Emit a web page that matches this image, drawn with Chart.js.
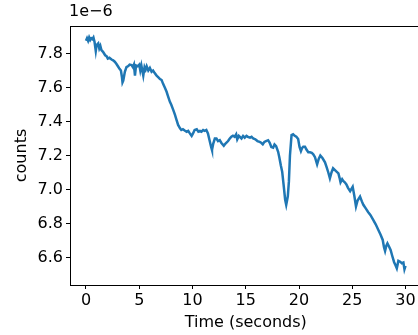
<!DOCTYPE html>
<html>
<head>
<meta charset="utf-8">
<script src="https://cdn.jsdelivr.net/npm/chart.js@4/dist/chart.umd.min.js"></script>
<style>
  html, body { margin: 0; padding: 0; background: #fff; overflow: hidden; }
  #wrap { position: relative; width: 440px; height: 335px; }
  #offset { position: absolute; left: 69px; top: 1px; font: 16px "DejaVu Sans", sans-serif; color: #000; }
</style>
</head>
<body>
<div id="wrap">
  <canvas id="chart" width="440" height="335"></canvas>
  <div id="offset">1e−6</div>
</div>
<script>
// time in seconds, counts in units of 1e-6
const times = [
    0.0, 0.1, 0.2, 0.3, 0.4, 0.5, 0.6, 0.7, 0.8, 0.92, 1.0, 1.15, 1.25, 1.35, 1.45, 1.6, 1.7, 1.8, 1.93,
    2.05, 2.2, 2.4, 2.55, 2.7, 2.85, 3.03, 3.15, 3.28, 3.38, 3.43, 3.5, 3.65, 3.8, 3.97, 4.1, 4.28, 4.4,
    4.5, 4.6, 4.7, 4.85, 5.0, 5.1, 5.2, 5.38, 5.5, 5.6, 5.7, 5.85, 6.0, 6.16, 6.3, 6.45, 6.63, 6.8, 6.95,
    7.1, 7.25, 7.4, 7.57, 7.7, 7.88, 8.0, 8.2, 8.35, 8.5, 8.65, 8.83, 8.95, 9.1, 9.3, 9.45, 9.6, 9.75,
    9.92, 10.05, 10.2, 10.4, 10.55, 10.7, 10.84, 11.0, 11.15, 11.3, 11.45, 11.6, 11.75, 11.83, 11.95,
    12.1, 12.25, 12.4, 12.56, 12.7, 12.94, 13.1, 13.34, 13.5, 13.65, 13.8, 13.95, 14.1, 14.2, 14.35,
    14.6, 14.75, 14.9, 15.07, 15.2, 15.4, 15.55, 15.7, 15.9, 16.1, 16.3, 16.45, 16.6, 16.75, 16.9,
    17.1, 17.25, 17.4, 17.57, 17.7, 17.85, 18.04, 18.15, 18.3, 18.42, 18.55, 18.7, 18.8, 18.95, 19.05,
    19.15, 19.3, 19.45, 19.6, 19.75, 19.92, 20.05, 20.18, 20.3, 20.4, 20.56, 20.7, 20.87, 21.03, 21.2,
    21.34, 21.5, 21.7, 21.85, 22.0, 22.2, 22.44, 22.6, 22.75, 22.9, 23.05, 23.2, 23.45, 23.7, 23.8,
    23.9, 24.05, 24.15, 24.3, 24.45, 24.6, 24.8, 25.04, 25.2, 25.35, 25.5, 25.73, 25.9, 26.04, 26.25,
    26.5, 26.7, 26.98, 27.2, 27.45, 27.65, 27.86, 27.98, 28.08, 28.2, 28.3, 28.45, 28.6, 28.75, 28.93,
    29.05, 29.18, 29.33, 29.5, 29.65, 29.8, 29.9, 30.0
];
const counts = [
    7.875, 7.89, 7.875, 7.895, 7.88, 7.89, 7.885, 7.895, 7.87, 7.815, 7.85, 7.86, 7.83, 7.845, 7.82, 7.81, 7.80, 7.79, 7.785,
    7.77, 7.775, 7.765, 7.76, 7.752, 7.74, 7.722, 7.71, 7.70, 7.66, 7.63, 7.64, 7.693, 7.72, 7.726, 7.735, 7.732, 7.72,
    7.735, 7.67, 7.73, 7.725, 7.735, 7.70, 7.73, 7.67, 7.72, 7.705, 7.725, 7.70, 7.715, 7.693, 7.70, 7.685, 7.67, 7.66, 7.65,
    7.644, 7.62, 7.60, 7.575, 7.55, 7.516, 7.50, 7.467, 7.44, 7.41, 7.38, 7.36, 7.35, 7.355, 7.346, 7.34, 7.345, 7.33,
    7.315, 7.33, 7.35, 7.354, 7.34, 7.345, 7.34, 7.35, 7.345, 7.35, 7.33, 7.29, 7.25, 7.232, 7.27,
    7.30, 7.30, 7.285, 7.29, 7.275, 7.257, 7.27, 7.285, 7.30, 7.31, 7.316, 7.31, 7.325, 7.295, 7.315,
    7.30, 7.315, 7.305, 7.316, 7.31, 7.305, 7.31, 7.30, 7.295, 7.285, 7.28, 7.275, 7.266, 7.28, 7.285,
    7.29, 7.275, 7.25, 7.246, 7.265, 7.255, 7.222, 7.19, 7.14, 7.105, 7.03, 6.94, 6.91, 6.96, 7.046,
    7.20, 7.32, 7.325, 7.316, 7.31, 7.297, 7.25, 7.226, 7.245, 7.252, 7.252, 7.235, 7.219, 7.219, 7.215,
    7.207, 7.19, 7.148, 7.18, 7.20, 7.185, 7.16, 7.13, 7.10, 7.066, 7.10, 7.125, 7.11, 7.095, 7.07,
    7.042, 7.06, 7.05, 7.042, 7.03, 7.01, 6.99, 7.016, 6.96, 6.90, 6.935, 6.958, 6.93, 6.91, 6.89,
    6.866, 6.85, 6.82, 6.795, 6.762, 6.735, 6.703, 6.66, 6.638, 6.67, 6.683, 6.665, 6.644, 6.61, 6.572,
    6.555, 6.536, 6.58, 6.575, 6.566, 6.57, 6.53, 6.55
];
const xTicks = [0, 5, 10, 15, 20, 25, 30];
const yTicks = [6.6, 6.8, 7.0, 7.2, 7.4, 7.6, 7.8];

const font = { family: 'DejaVu Sans', size: 16 };

// matplotlib-like box around the axes
const frame = {
    id: 'frame',
    afterDraw(chart) {
        const a = chart.chartArea;
        const ctx = chart.ctx;
        ctx.save();
        ctx.strokeStyle = '#000';
        ctx.lineWidth = 1;
        ctx.strokeRect(Math.round(a.left) + 0.5, Math.round(a.top) + 0.5, Math.round(a.right - a.left), Math.round(a.bottom - a.top));
        ctx.restore();
    }
};

new Chart(document.getElementById('chart'), {
    type: 'line',
    data: {
        datasets: [{
            data: times.map((t, i) => ({ x: t, y: counts[i] })),
            borderColor: '#1f77b4',
            borderWidth: 2.5,
            pointRadius: 0,
            tension: 0,
            fill: false
        }]
    },
    options: {
        responsive: false,
        animation: false,
        events: [],
        layout: { padding: { top: 26, right: 18.5, left: 10, bottom: 3 } },
        plugins: { legend: { display: false }, tooltip: { enabled: false } },
        scales: {
            x: {
                type: 'linear',
                min: -1.5,
                max: 31.5,
                afterBuildTicks: s => { s.ticks = xTicks.map(v => ({ value: v })); },
                afterFit: s => { s.height = 47; },
                grid: { display: true, drawOnChartArea: false, tickLength: 4, color: '#000' },
                border: { display: false },
                ticks: { color: '#000', font: font, padding: 2, maxRotation: 0 },
                title: { display: true, text: 'Time (seconds)', color: '#000', font: font, padding: 0 }
            },
            y: {
                min: 6.438,
                max: 7.962,
                afterBuildTicks: s => { s.ticks = yTicks.map(v => ({ value: v })); },
                afterFit: s => { s.width = 60; },
                grid: { display: true, drawOnChartArea: false, tickLength: 4, color: '#000' },
                border: { display: false },
                ticks: { color: '#000', font: font, padding: 3, callback: v => v.toFixed(1) },
                title: { display: true, text: 'counts', color: '#000', font: font, padding: 2 }
            }
        }
    },
    plugins: [frame]
});
</script>
</body>
</html>
